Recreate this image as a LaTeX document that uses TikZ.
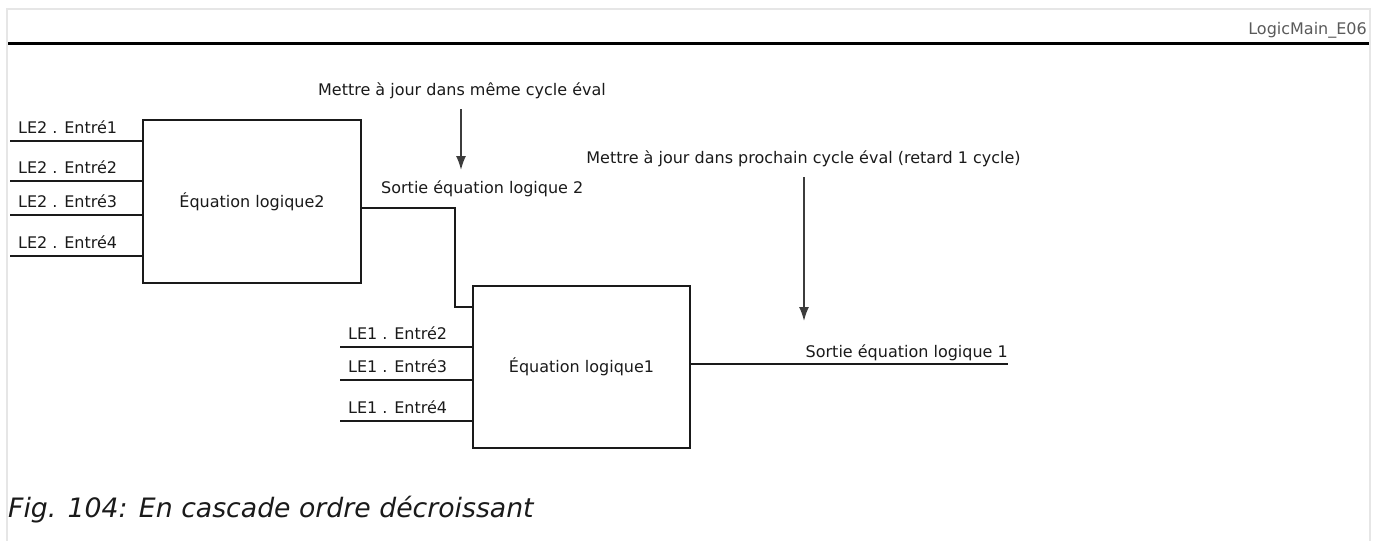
\documentclass[tikz,border=0pt]{standalone}
\usepackage{fontspec}
\setmainfont{DejaVu Sans}
\usetikzlibrary{arrows.meta}
\definecolor{framegray}{HTML}{E6E6E6}
\definecolor{ink}{HTML}{1A1A1A}
\definecolor{hdrgray}{HTML}{5A5A5A}
\begin{document}
\begin{tikzpicture}[x=1pt,y=-1pt,
  lbl/.style={inner sep=0pt,anchor=base west,text=ink,font=\fontsize{16}{19}\selectfont},
  blk/.style={draw=ink,line width=1.3pt,inner sep=0pt,text=ink,font=\fontsize{16}{19}\selectfont},
  wire/.style={draw=ink,line width=1.3pt},
  arr/.style={draw=ink!85,line width=1.6pt,-{Latex[length=14pt,width=10pt]}}]
\useasboundingbox (0,0) rectangle (1384,541);
% frame
\draw[framegray,line width=2pt] (7,541) -- (7,9) -- (1370,9) -- (1370,541);
\draw[black,line width=3pt] (8,43.5) -- (1369,43.5);
\node[inner sep=0pt,anchor=base east,text=hdrgray,font=\fontsize{16}{19}\selectfont] (hdr) at (1367,34) {LogicMain\_E06};
% blocks
\node[blk,minimum width=218pt,minimum height=163pt] (box2) at (252,201.5) {Équation logique2};
\node[blk,minimum width=217pt,minimum height=162pt] (box1) at (581.5,367) {Équation logique1};
% LE2 inputs
\foreach \n/\y in {1/141,2/181,3/215,4/256}{
  \coordinate (a\n) at (10,\y);
  \draw[wire] (a\n) -- (a\n -| box2.west);
  \node[lbl] (la\n) at (18,\y-8) {LE2 . Entré\n};
}
% LE1 inputs
\foreach \n/\y in {2/347,3/380,4/421}{
  \coordinate (b\n) at (340,\y);
  \draw[wire] (b\n) -- (b\n -| box1.west);
  \node[lbl] (lb\n) at (348,\y-8) {LE1 . Entré\n};
}
% cascade connection
\coordinate (o2) at (455,208);
\coordinate (j1) at (455,307);
\draw[wire] (box2.east |- o2) -- (o2) -- (j1) -- (j1 -| box1.west);
\node[lbl] (so2) at (381,193) {Sortie équation logique 2};
% output 1
\coordinate (o1) at (1008,364);
\draw[wire] (box1.east |- o1) -- (o1);
\node[lbl,anchor=base east] (so1) at (1008,357) {Sortie équation logique 1};
% annotations
\node[lbl,anchor=base] (t1) at (462,95) {Mettre à jour dans même cycle éval};
\coordinate (p1s) at (461,109);
\coordinate (p1e) at (461,170);
\draw[arr] (p1s) -- (p1e);
\node[lbl,anchor=base] (t2) at (803.5,163) {Mettre à jour dans prochain cycle éval (retard 1 cycle)};
\coordinate (p2s) at (804,177);
\coordinate (p2e) at (804,321);
\draw[arr] (p2s) -- (p2e);
% caption
\node[inner sep=0pt,anchor=base west,text=ink,font=\fontsize{26.7}{30}\selectfont\itshape] (cap) at (8,517) {Fig. 104: En cascade ordre décroissant};
\end{tikzpicture}
\end{document}
